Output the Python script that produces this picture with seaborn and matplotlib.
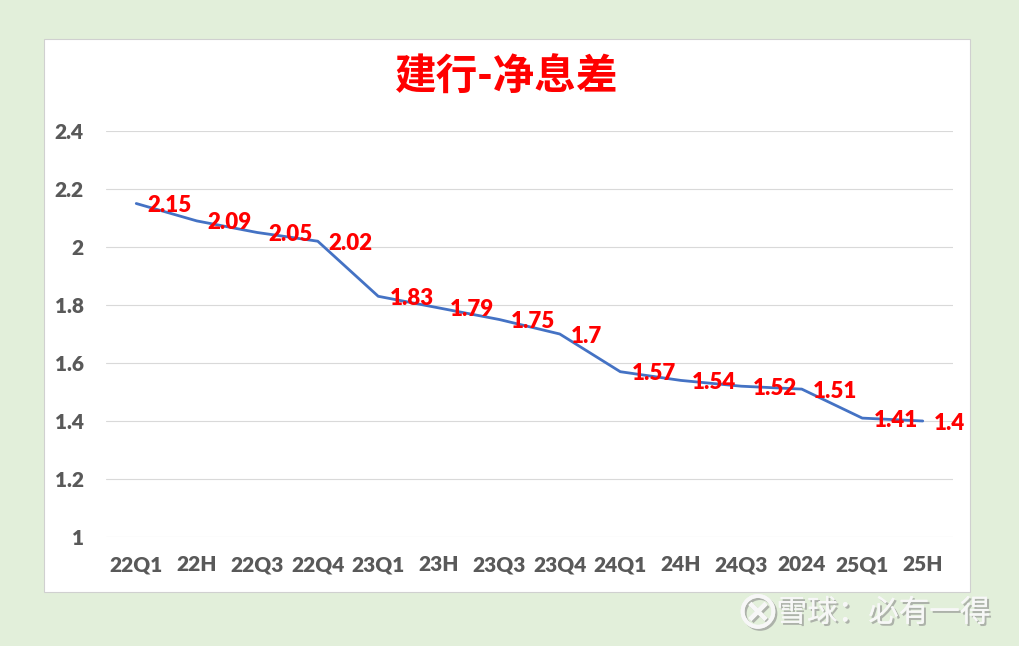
import matplotlib
matplotlib.use('Agg')
import matplotlib.pyplot as plt
import matplotlib.patheffects as pe
from matplotlib.patches import Rectangle
import pandas as pd
import seaborn as sns

# --- Dữ liệu ---
periods = ['22Q1', '22H', '22Q3', '22Q4', '23Q1', '23H', '23Q3', '23Q4',
           '24Q1', '24H', '24Q3', '2024', '25Q1', '25H']
nim = [2.15, 2.09, 2.05, 2.02, 1.83, 1.79, 1.75, 1.7,
       1.57, 1.54, 1.52, 1.51, 1.41, 1.4]
y_ticks = [1, 1.2, 1.4, 1.6, 1.8, 2, 2.2, 2.4]
title = '建行-净息差'
watermark = '雪球：必有一得'

sns.set_theme(style='white')
plt.rcParams['font.family'] = ['Lato', 'Noto Sans CJK SC', 'DejaVu Sans']

fig = plt.figure(figsize=(10.2, 6.46), dpi=100)
fig.patch.set_facecolor('#e2efda')

# khung trắng của biểu đồ (vẽ dưới trục)
fig.patches.append(Rectangle((44 / 1020, 1 - 592 / 646), 926 / 1020, 553 / 646,
                             transform=fig.transFigure, facecolor='white',
                             edgecolor='#d0d0d0', linewidth=0.8, zorder=-5))

ax = fig.add_axes([106 / 1020, 1 - 537 / 646, 847 / 1020, 406 / 646])
ax.set_facecolor('none')
ax.set_zorder(2)

df = pd.DataFrame({'pos': range(len(periods)), 'nim': nim})
sns.lineplot(data=df, x='pos', y='nim', ax=ax, color='#4472C4',
             linewidth=2.0, sort=False)

for i, v in enumerate(nim):
    ax.annotate(f'{v:g}', (i, v), xytext=(8, -1.5), textcoords='offset points',
                ha='left', va='center', color='#ff0000', fontsize=16,
                fontweight='heavy')

ax.set_xlim(-0.5, len(periods) - 0.5)
ax.set_ylim(1, 2.4)
ax.set_xticks(range(len(periods)))
ax.set_xticklabels(periods)
ax.set_yticks(y_ticks)
ax.set_yticklabels([f'{t:g}' for t in y_ticks])
ax.tick_params(axis='both', length=0, labelsize=15, labelcolor='#595959')
ax.tick_params(axis='y', pad=16)
ax.tick_params(axis='x', pad=13)
for lab in ax.get_xticklabels() + ax.get_yticklabels():
    lab.set_fontweight('heavy')
ax.grid(axis='y', color='#d9d9d9', linewidth=0.8)
ax.set_axisbelow(True)
sns.despine(ax=ax, left=True, bottom=True)
ax.set_xlabel('')
ax.set_ylabel('')

fig.text(507 / 1020, 1 - 78 / 646, title, ha='center', va='center',
         color='#ff0000', fontsize=30, fontweight='bold',
         family=['Noto Sans CJK SC', 'DejaVu Sans'])

# watermark
shadow = [pe.withSimplePatchShadow(offset=(1.5, -1.5), shadow_rgbFace='#8a8a8a', alpha=0.6),
          pe.Normal()]
fig.text(758 / 1020, 1 - 613 / 646, '⊗', ha='center', va='center',
         color='#f7f7f7', fontsize=38, family=['DejaVu Sans'], path_effects=shadow)
fig.text(990 / 1020, 1 - 613 / 646, watermark, ha='right', va='center',
         color='#f7f7f7', fontsize=22, family=['Noto Sans CJK SC', 'DejaVu Sans'],
         path_effects=shadow)

fig.savefig('out.png', dpi=100, facecolor=fig.get_facecolor())
